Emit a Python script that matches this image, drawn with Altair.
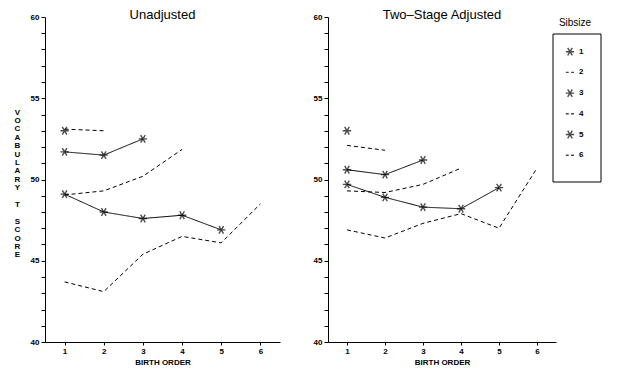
import altair as alt
import pandas as pd

birth_order = [1, 2, 3, 4, 5, 6]
sibsizes = [1, 2, 3, 4, 5, 6]

# Unadjusted means by sibsize (birth order 1..n)
unadj_s1 = [53.0]
unadj_s2 = [53.1, 53.0]
unadj_s3 = [51.7, 51.5, 52.5]
unadj_s4 = [49.05, 49.3, 50.2, 51.85]
unadj_s5 = [49.1, 48.0, 47.6, 47.8, 46.9]
unadj_s6 = [43.7, 43.1, 45.4, 46.5, 46.1, 48.5]

# Two-stage adjusted means by sibsize
adj_s1 = [53.0]
adj_s2 = [52.1, 51.8]
adj_s3 = [50.6, 50.3, 51.2]
adj_s4 = [49.3, 49.2, 49.7, 50.7]
adj_s5 = [49.7, 48.9, 48.3, 48.2, 49.5]
adj_s6 = [46.9, 46.4, 47.3, 47.9, 47.0, 50.7]

BL = "\u2800"  # blank glyph to keep an empty line
y_letters = ["V", "O", "C", "A", "B", "U", "L", "A", "R", "Y", BL, "T", BL + "\u200b", "S", "C", "O", "R", "E"]


def build(series):
    rows = []
    for sib, vals in zip(sibsizes, series):
        for order, v in zip(birth_order, vals):
            rows.append({"sib": str(sib), "order": order, "score": v,
                         "style": "solid" if sib % 2 == 1 else "dashed"})
    return pd.DataFrame(rows)


df_unadj = build([unadj_s1, unadj_s2, unadj_s3, unadj_s4, unadj_s5, unadj_s6])
df_adj = build([adj_s1, adj_s2, adj_s3, adj_s4, adj_s5, adj_s6])
legend_df = pd.DataFrame({"sib": [str(s) for s in sibsizes]})

ASTERISK = "M-1,0L1,0M-0.55,-0.9L0.55,0.9M-0.55,0.9L0.55,-0.9"
DASH = "M-1,0L-0.3,0M0.25,0L0.95,0"
shape_scale = alt.Scale(domain=[str(s) for s in sibsizes],
                        range=[ASTERISK, DASH, ASTERISK, DASH, ASTERISK, DASH])
dash_scale = alt.Scale(domain=["solid", "dashed"], range=[[1, 0], [4, 3]])

TITLE_KW = dict(fontSize=13, font="Liberation Sans", fontWeight="normal", offset=-9, color="black")


def panel(df, ytitle):
    if ytitle:
        yaxis = alt.Axis(values=list(range(40, 61)),
                         labelExpr="datum.value % 5 === 0 ? datum.label : ''",
                         tickSize=4, labelPadding=2, domainWidth=1,
                         title=y_letters, titleAngle=0, titleLineHeight=8.4,
                         titleAlign="center", titleBaseline="middle",
                         titleX=-28, titleY=95)
    else:
        yaxis = alt.Axis(values=list(range(40, 61)),
                         labelExpr="datum.value % 5 === 0 ? datum.label : ''",
                         tickSize=4, labelPadding=2, domainWidth=1, title=None)
    x = alt.X("order:Q", scale=alt.Scale(domain=[0.5, 6.5], nice=False, zero=False),
              axis=alt.Axis(values=birth_order, title="BIRTH ORDER", tickSize=3,
                            labelPadding=2, titlePadding=3, domainWidth=1))
    y = alt.Y("score:Q", scale=alt.Scale(domain=[40, 60], nice=False, zero=False), axis=yaxis)
    base = alt.Chart(df)
    lines = base.mark_line(color="black", strokeWidth=1).encode(
        x=x, y=y, detail="sib:N",
        strokeDash=alt.StrokeDash("style:N", scale=dash_scale, legend=None))
    points = base.transform_filter("datum.style == 'solid'").mark_point(
        filled=False, color="black", size=70, strokeWidth=1.4).encode(
        x=x, y=y, shape=alt.Shape("sib:N", scale=shape_scale, legend=None))
    return alt.layer(lines, points)


left = panel(df_unadj, True).properties(
    width=235, height=325, title=alt.TitleParams("Unadjusted", **TITLE_KW))

data_right = panel(df_adj, False)

leg_y = alt.Y("sib:O", scale=alt.Scale(type="point", range=[34.7, 138.2], padding=0), axis=None)
one_row = "datum.sib == '1'"
leg_box = alt.Chart(legend_df).transform_filter(one_row).mark_rect(
    fill=None, stroke="black", strokeWidth=1).encode(
    x=alt.value(225), x2=alt.value(273), y=alt.value(17), y2=alt.value(165))
leg_title = alt.Chart(legend_df).transform_filter(one_row).mark_text(
    text="Sibsize", font="Liberation Sans", fontSize=10, color="black").encode(
    x=alt.value(247), y=alt.value(6))
leg_sym = alt.Chart(legend_df).mark_point(filled=False, color="black", size=70, strokeWidth=1.4).encode(
    x=alt.value(242), y=leg_y, shape=alt.Shape("sib:N", scale=shape_scale, legend=None))
leg_txt = alt.Chart(legend_df).mark_text(align="left", baseline="middle", font="Liberation Sans",
                                         fontSize=8, fontWeight="bold", color="black").encode(
    x=alt.value(251), y=leg_y, text="sib:N")
legend_layer = alt.layer(leg_box, leg_title, leg_sym, leg_txt)

right = alt.layer(data_right, legend_layer).resolve_scale(y="independent").properties(
    width=228, height=325, title=alt.TitleParams("Two\u2013Stage Adjusted", **TITLE_KW))

chart = alt.hconcat(left, right, spacing=33).properties(
    padding={"left": 5, "top": 1, "right": 0, "bottom": 0}
).configure_view(stroke=None).configure_axis(
    domainColor="black", tickColor="black", labelColor="black", titleColor="black",
    labelFont="Liberation Sans", labelFontWeight="bold", labelFontSize=8,
    titleFont="Liberation Sans", titleFontSize=8, titleFontWeight="bold", grid=False
)

chart.save("out.html", embed_options={"renderer": "svg", "actions": False})
